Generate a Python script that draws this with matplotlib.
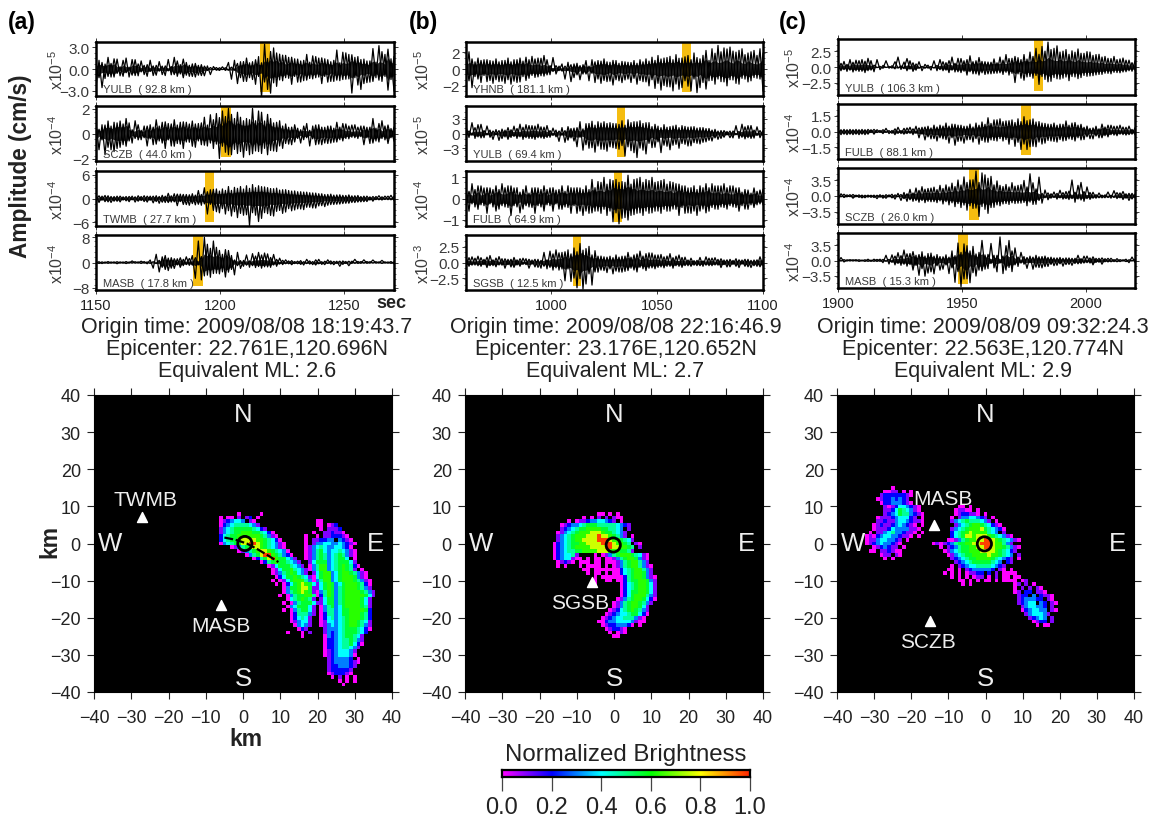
import numpy as np
import matplotlib
matplotlib.use('Agg')
import matplotlib.pyplot as plt
from matplotlib.colors import LinearSegmentedColormap

plt.rcParams['font.family'] = ['Liberation Sans', 'DejaVu Sans']
plt.rcParams['mathtext.default'] = 'regular'

W, H = 1156, 820

# time windows (sec)
windows = [(1150, 1270), (960, 1100), (1900, 2020)]
time_ticks = [[1150, 1200, 1250], [1000, 1050, 1100], [1900, 1950, 2000]]

# peak heights of each seismogram, sign alternates when drawn
a_yulb = [0.8,1.2,0.9,1.3,1.6,1.1,1.4,0.6,0.3,1.0,1.5,1.1,1.3,0.9,0.7,0.4,0.5,1.0,1.2,0.9,0.5,0.3,0.4,0.9,1.3,0.8,1.6,1.0,0.6,1.2,0.9,1.0,0.7,1.1,0.5,0.9,0.4,0.2,0.2,0.1,0.2,0.2,0.3,0.2,0.9,1.4,1.2,2.0,1.0,1.7,1.5,1.2,1.0,2.1,1.7,3.9,3.4,2.8,2.4,1.9,2.2,1.5,1.9,1.2,1.6,2.1,1.4,1.8,1.1,1.6,2.0,1.3,1.8,1.2,1.5,2.0,1.4,1.8,1.0,1.7,2.6,1.6,2.3,1.4,2.0,3.3,1.6,2.2,1.3,2.0,1.1,1.8,2.8,1.2,3.2,1.7,2.0,2.9,1.4,3.0]
a_sczb = [0.8,1.3,0.7,1.7,1.0,1.3,0.9,1.2,1.0,0.9,1.2,0.6,0.3,0.4,0.7,0.5,0.6,1.0,0.7,0.9,1.1,0.6,0.9,1.2,0.8,1.0,1.1,0.8,0.9,1.2,0.9,0.7,1.0,1.1,0.8,0.9,1.3,1.0,1.5,1.2,1.6,2.0,1.8,1.5,2.0,1.7,1.2,1.6,1.3,1.9,1.2,1.7,2.0,1.4,1.8,1.6,1.0,1.7,1.2,1.4,0.9,1.0,0.6,0.8,0.5,0.9,0.7,0.4,0.3,0.5,0.8,1.0,0.6,0.9,0.7,0.9,0.5,0.8,0.6,0.7,0.9,0.5,0.8,0.4,0.6,0.3,0.7,0.4,0.6,0.9,0.5,0.8,1.2,0.6,0.8,0.4,0.6,0.8,0.4,0.6]
a_twmb = [0.9,1.0,0.6,0.8,0.7,1.0,0.5,0.7,0.6,0.4,0.5,0.8,0.6,0.9,0.7,0.5,0.7,0.9,0.6,1.1,0.7,1.2,0.8,1.0,1.3,0.9,1.2,1.8,1.1,1.5,1.0,1.7,1.2,1.6,2.0,1.7,2.7,3.9,2.2,3.0,2.4,3.6,2.4,3.9,3.0,4.4,2.8,4.8,3.0,4.2,3.2,6.8,3.5,4.2,3.2,5.0,2.9,3.8,2.5,4.4,2.6,3.0,2.2,3.4,2.0,3.1,1.9,2.6,1.7,2.8,1.6,2.2,1.4,2.4,1.2,1.8,1.0,1.7,1.1,1.5,0.9,1.4,0.8,1.2,0.9,1.0,0.7,0.9,0.5,0.8,0.6,0.4,0.5,0.3,0.7,0.4,0.6,0.3,0.8,0.5]
a_masb = [0.2,0.3,0.2,0.2,0.3,0.2,0.2,0.4,0.2,0.2,0.3,0.2,0.5,0.2,0.2,0.3,0.3,0.4,0.8,1.8,2.6,3.0,1.8,2.2,1.4,1.8,1.2,0.8,1.5,1.0,1.8,0.9,2.2,5.0,6.8,5.5,8.0,4.0,4.5,3.5,4.8,3.6,2.6,4.6,3.8,2.2,0.8,1.0,0.6,1.2,2.4,1.5,2.8,1.6,3.2,1.8,3.0,1.4,1.6,0.8,1.0,0.5,0.7,0.4,0.5,0.7,0.3,0.4,0.6,0.8,1.0,0.5,0.3,0.8,1.0,0.6,0.4,0.3,0.5,0.7,0.4,1.2,0.5,0.3,0.4,0.3,1.0,0.3,0.3,0.2,0.3,0.2,0.8,0.2,0.2,0.3,0.2,0.2,0.3,0.4]
b_yhnb = [1.0,1.4,1.2,0.9,1.3,1.6,1.1,1.5,1.0,1.7,1.2,1.5,1.0,1.7,1.3,1.8,1.1,1.6,1.3,0.9,1.4,1.1,1.5,1.0,1.3,0.8,1.6,0.7,0.4,0.3,0.4,0.2,0.6,1.2,0.8,1.5,0.6,0.7,0.4,0.6,1.0,1.4,1.1,1.6,1.0,1.7,1.2,1.5,0.8,1.9,1.0,1.4,0.9,1.3,0.8,1.6,1.0,1.8,1.1,1.5,1.2,2.0,1.4,2.3,1.6,2.5,1.3,2.1,1.5,2.6,1.7,2.4,1.3,1.4,1.6,2.6,1.9,2.8,1.2,1.6,2.2,1.4,2.4,1.8,2.8,1.5,2.5,2.0,2.6,1.3,2.0,1.8,2.4,1.2,1.9,1.4,2.2,1.1,2.4,2.6]
b_yulb = [1.4,0.8,2.2,1.0,1.8,0.9,0.6,0.3,0.7,1.2,0.8,1.4,0.9,0.7,1.2,0.8,1.5,1.0,1.9,1.2,1.8,1.0,1.6,1.2,1.9,0.9,1.3,0.8,0.6,0.4,0.7,1.6,1.2,1.8,1.4,0.9,1.1,2.7,2.4,3.4,2.0,3.0,2.5,3.8,2.4,3.2,2.4,3.6,2.2,2.9,2.0,3.2,2.6,4.6,2.8,3.5,2.4,4.9,2.6,3.4,2.2,2.0,1.4,2.8,1.5,3.9,1.8,2.6,1.4,2.4,1.7,3.0,1.6,2.2,1.3,2.5,1.4,2.0,1.2,1.8,1.0,1.4,0.7,0.9,0.5,1.0,0.6,0.3,0.5,0.9,1.6,1.0,1.9,1.1,1.6,1.0,0.7,0.4,0.6,0.4]
b_fulb = [0.5,0.6,0.7,0.4,0.6,0.3,0.5,0.7,0.5,0.4,0.6,0.5,0.7,0.4,0.6,0.8,0.5,0.4,0.3,0.5,0.6,0.4,0.5,0.7,0.5,0.4,0.6,0.3,0.5,0.6,0.4,0.5,0.6,0.4,0.6,0.7,0.5,0.7,0.5,0.8,0.6,0.7,0.9,0.6,0.8,0.7,1.0,0.8,0.9,1.1,0.9,1.2,0.8,0.9,1.1,0.8,0.9,0.7,1.0,0.8,0.9,0.7,1.0,0.6,0.8,0.7,0.9,0.6,0.8,0.5,0.7,0.8,0.6,0.7,0.5,0.7,0.6,0.8,0.6,0.5,0.7,0.6,0.7,0.5,0.6,0.4,0.7,0.5,0.6,0.4,0.5,0.6,0.3,0.5,0.4,0.3,0.5,0.3,0.4,0.3]
b_sgsb = [0.8,0.6,0.9,0.4,1.0,0.6,0.5,0.8,1.1,0.5,0.7,0.4,0.6,0.9,0.5,0.7,0.8,0.4,0.6,0.3,0.6,0.9,0.4,0.7,0.5,0.9,1.6,1.0,1.8,1.2,2.0,1.2,1.6,2.9,2.0,3.0,2.3,4.0,3.0,4.2,2.2,1.8,1.2,1.5,1.0,1.2,0.9,1.6,1.0,1.8,1.2,1.5,1.0,1.4,1.6,0.9,1.2,1.5,1.8,1.0,1.4,0.9,1.5,1.0,1.2,0.7,0.9,0.6,1.4,0.9,1.0,0.6,0.8,0.5,0.4,0.6,0.3,0.5,0.8,0.6,0.9,0.5,0.7,0.4,0.5,0.8,0.4,0.7,0.5,0.3,0.6,0.8,0.4,0.6,0.5,0.8,0.4,0.6,0.9,0.5]
c_yulb = [0.5,0.6,0.9,0.7,1.2,0.8,1.1,0.7,1.2,0.9,1.4,0.5,0.3,0.1,0.1,0.2,1.0,0.2,0.2,0.3,1.6,0.4,0.8,0.6,1.0,0.7,0.5,0.2,0.1,0.2,0.3,0.5,1.0,0.6,1.2,0.6,0.7,0.9,1.6,0.8,1.4,0.9,1.0,1.3,1.8,1.1,1.0,1.3,0.9,1.2,0.8,1.1,1.3,1.0,1.6,1.2,2.0,1.3,1.4,2.5,1.5,1.8,2.0,1.6,2.4,1.8,3.0,2.8,3.3,2.0,4.0,2.3,3.0,1.9,2.4,1.8,2.8,2.2,2.6,1.6,2.9,1.7,2.2,1.5,2.4,1.4,2.0,1.2,1.6,1.0,1.4,1.1,1.7,0.9,1.3,0.8,1.1,0.6,0.7,0.5]
c_fulb = [0.2,0.3,0.2,0.3,0.2,0.3,0.2,0.3,0.2,0.3,0.2,0.1,0.2,0.1,0.1,0.2,0.3,0.2,0.1,0.3,0.4,0.2,0.3,0.2,0.4,0.3,0.5,0.6,0.4,0.8,0.5,0.7,0.6,0.9,0.6,0.7,0.8,1.1,0.7,1.3,0.6,0.9,0.5,0.8,0.7,1.0,0.8,1.2,0.9,1.0,1.3,0.8,1.1,0.9,1.2,0.9,1.0,1.2,1.1,1.4,1.2,1.7,1.4,1.7,1.1,1.4,0.9,1.0,0.8,1.1,0.7,0.9,0.8,1.0,0.7,0.9,1.0,0.7,0.8,0.9,0.6,0.8,0.4,0.5,0.3,0.7,0.5,0.6,0.7,0.4,0.6,0.3,0.5,0.4,0.6,0.3,0.4,0.3,0.2,0.3]
c_sczb = [0.3,0.2,0.4,0.2,0.3,0.5,0.2,0.3,0.2,0.4,0.2,0.3,0.2,0.6,0.3,0.5,0.3,0.2,0.4,0.7,0.6,1.0,0.8,1.2,1.5,1.2,1.8,1.4,2.1,1.5,1.7,1.3,2.0,1.5,2.4,1.8,2.5,2.0,2.9,2.4,3.6,2.6,4.3,3.2,3.6,2.8,5.6,4.6,5.2,3.0,4.0,2.6,2.5,2.0,2.4,1.8,2.6,1.9,3.0,1.7,2.4,1.6,3.5,2.2,5.0,1.9,1.6,1.0,0.6,0.4,0.7,0.5,0.9,0.7,1.3,0.7,1.0,0.8,3.6,1.4,2.4,0.9,1.0,0.6,0.8,0.5,0.3,0.4,0.2,0.4,0.9,0.5,1.2,0.6,0.7,0.8,0.5,1.0,0.6,0.4]
c_masb = [0.2,0.1,0.2,0.1,0.2,0.1,0.2,0.2,0.1,0.2,0.3,0.2,0.3,0.2,0.3,0.5,1.2,0.8,1.3,1.0,1.8,1.1,2.4,1.3,1.6,2.2,1.2,3.4,2.0,3.6,1.6,2.6,1.0,1.2,0.9,2.0,1.3,3.0,2.2,5.0,4.0,6.0,3.8,4.2,2.2,2.8,1.5,2.2,4.6,2.0,1.4,0.7,1.2,2.6,5.4,3.0,3.4,1.6,2.2,1.0,0.8,0.6,0.9,1.8,1.0,2.0,1.2,1.6,0.9,1.4,0.7,0.9,0.6,1.1,0.7,1.3,0.6,0.9,0.5,0.7,1.2,0.7,1.0,0.5,0.6,1.0,0.5,0.4,0.6,0.3,0.5,0.3,0.2,0.3,0.2,0.1,0.3,0.5,0.8,0.4]

traces = [[a_yulb, a_sczb, a_twmb, a_masb],
          [b_yhnb, b_yulb, b_fulb, b_sgsb],
          [c_yulb, c_fulb, c_sczb, c_masb]]
stations = [['YULB  ( 92.8 km )', 'SCZB  ( 44.0 km )', 'TWMB  ( 27.7 km )', 'MASB  ( 17.8 km )'],
            ['YHNB  ( 181.1 km )', 'YULB  ( 69.4 km )', 'FULB  ( 64.9 km )', 'SGSB  ( 12.5 km )'],
            ['YULB  ( 106.3 km )', 'FULB  ( 88.1 km )', 'SCZB  ( 26.0 km )', 'MASB  ( 15.3 km )']]
exponents = [[-5, -4, -4, -4], [-5, -5, -4, -3], [-5, -4, -4, -4]]
amp_lims = [[3.7, 2.2, 6.9, 8.7], [3.2, 5.6, 1.3, 4.35], [4.5, 2.6, 6.3, 6.3]]
amp_ticks = [[[-3.0, 0.0, 3.0], [-2, 0, 2], [-6, 0, 6], [-8, 0, 8]],
             [[-2, 0, 2], [-3, 0, 3], [-1, 0, 1], [-2.5, 0.0, 2.5]],
             [[-2.5, 0.0, 2.5], [-1.5, 0.0, 1.5], [-3.5, 0.0, 3.5], [-3.5, 0.0, 3.5]]]
picks = [[(1216, 1220), (1200.3, 1204.3), (1194, 1197.6), (1189, 1193)],
         [(1062, 1066), (1031, 1035), (1029.8, 1033.7), (1010.3, 1014.2)],
         [(1979.2, 1983), (1974, 1978), (1953, 1957), (1948.6, 1952.7)]]

origin_lines = [['Origin time: 2009/08/08 18:19:43.7', 'Epicenter: 22.761E,120.696N', 'Equivalent ML: 2.6'],
                ['Origin time: 2009/08/08 22:16:46.9', 'Epicenter: 23.176E,120.652N', 'Equivalent ML: 2.7'],
                ['Origin time: 2009/08/09 09:32:24.3', 'Epicenter: 22.563E,120.774N', 'Equivalent ML: 2.9']]

# brightness maps: (x of first column, y of first row, rows); 1 char = 1 km, digit indexes digit_levels
digit_levels = [0.0, 0.1, 0.2, 0.3, 0.4, 0.48, 0.56, 0.63, 0.76, 0.97]
a_arc1 = (-6, 8, [
    "     0     0",
    "0 00 1 12 0",
    "0123443 10",
    "02345555431",
    "1345666665421",
    "134566777665420",
    "2456677777765310",
    "24566788887765420",
    "034567889987654310",
    "   013567887654310",
    "     01356788765430",
    "       0356899765320",
    "         025689766431",
    "           02567665431",
    "             0146665431",
    "              0146675431",
    "              0135676431",
    "               0246676541",
    "              0 0146777531",
    "               0 0246787641",
    "                 036678861",
    "                 035678761",
    "                0 035667751",
    "                  04567651",
    "                 0 03566641",
    "                  03466641",
    "                 0 0356641",
    "                   0255531",
    "                   024541",
    "                   013441",
    "                    03431",
    "                     021",
    "                  0   0 1",
    "                      0",
])
a_arc2 = (17, 6, [
    "   00",
    "   00 012",
    "    0 1112",
    "  0  112110",
    "0  0 1122210",
    "0 112233 3210",
    "0 133443343210",
    "0134543344320",
    "01356434454310",
    "01356534565310",
    "013565345664 0",
    " 1466634566641",
    " 03577345676520",
    " 0357734567651 0",
    "  146773467765310",
    "  046773467776310",
    "  0357734677765310",
    "   146763467776520",
    "   146763567776531",
    "   0357635677776531",
    "   0257635677777641",
    "    14663567777641",
    "    14663567777641",
    "    03563467777651",
    "    03553466777762",
    "    02553466777652",
    "    02453456777652",
    "    01443456776541",
    "    01343456776531",
    "     1333456665420",
    "     132345666542",
    "     03234566541",
    "     02234556531",
    "     02234556420",
    "     0223455431",
    "     012344431",
    "     012344430",
    "      1233332 0",
    "      123333210",
    "      12233321",
    "      1222221",
    "      0122210",
    "       0 1 0 0",
    "         0 0 0",
    "          0",
])
b_top = (-17, 8, [
    "             00 0 0",
    "         0 0 1 1 100",
    "     0 01123344321 0",
    "   0123345666555554321",
    "   12345667777665543 1",
    "  0134567778887665431",
    "  1345677788898876531 0",
    "  134567788889998776541",
    " 023456677888899987765 10",
    " 0234567777888899887765 1",
    " 0234556677778887776651",
    " 0234451",
    " 0234410",
    "  01210",
    "  0 0",
])
b_hollow = (-9, -4, [
    "0 0 00 0 0",
    "000 00 0000",
    "0 0000 0 00",
    " 00 0000000",
    "  0 00 0 000",
    "    0 000000",
    "    0  00 00",
    "    0",
])
b_arc = (-6, -3, [
    " 0 0135677765410",
    "     01356776310",
    "      0135677531",
    "      01356775310",
    "       0245677531",
    "       0245677631",
    "        0256776310",
    "        0256677631",
    "        0245677641",
    "        0245677641",
    "        0246677641",
    "        0246777531",
    "       01356776420",
    "      01356776531",
    "      0135677641",
    "     01245676531",
    "    012344566420",
    "   012344555310",
    "  0023344443100",
    "   012233320 0",
    "    012210",
    "     0 010",
    "      00",
])
c_left = (-32, 15, [
    "       0",
    "     0011 0 0",
    "    122222210",
    "   012232321",
    "    022333210",
    "     1012443210",
    "     1124654310",
    "     12346553210",
    "   01112344421 0",
    "   1121134432110",
    "  012112343210 0",
    "  0111243333110",
    " 0 11345332110 0",
    "0102344332110 0",
    "0113443321 0",
    "0123433210",
    "  0123211 0",
    " 00 112100",
    "    011 10",
    "     0 0",
])
c_mid = (-14, 10, [
    "       00 0",
    "      01100 0",
    "      0122110 0",
    "     0 13344321 0",
    "     13456555431 0",
    "      1345677654210",
    "     134567778654320",
    "     2456787777543 1",
    "     24568878887654310",
    "    00135677889987654310",
    "0101235667788999877531",
    "  0 12356677889987765310",
    "   01345667778888765421",
    "    013456677778776543 1",
    "     12345667777654321 0",
    "      1234566666543 21",
    "     0 1234455554321",
    "    00 0 12333332 10 0",
    "   0 0 0 01122 2 1 0 00",
    "     0 0 0 011 0 1 00 0",
    "       00 0 0 00 0 00",
    "        0 0",
])
c_tail = (5, -7, [
    "0 0",
    "00",
    " 0  0",
    "  00 01",
    "   01 1 0",
    "   0 1 1 10",
    "   01 22 110",
    "    122 3 2110",
    "    1233322 10",
    "    12344 32 10",
    "     1344332 1",
    "     0234433 10",
    "      1344431",
    "       12343 1",
    "        0122 1",
    "         0 00",
])
map_blobs = [[a_arc1, a_arc2], [b_hollow, b_top, b_arc], [c_left, c_mid, c_tail]]

# station triangles and their labels, in km
map_stations = [[('TWMB', -27, 7.2, -26.3, 11.8), ('MASB', -6, -16.5, -6, -22.2)],
                [('SGSB', -6, -10.5, -9, -16)],
                [('MASB', -14, 5, -11.5, 12), ('SCZB', -15, -21, -15.5, -26.5)]]
epicenter_x = [0.5, -0.2, -0.3]
epicenter_y = [0, -0.4, -0.1]
arc_x = [-5, -2, 1, 4, 7, 9.5]
arc_y = [1.6, 1, 0, -1.6, -3.4, -5]

cmap = LinearSegmentedColormap.from_list('bright', [(0.0, '#ff00ff'), (0.1, '#8000ff'), (0.2, '#0000ff'),
                                                    (0.4, '#00ffff'), (0.6, '#00ff00'), (0.8, '#ffff00'),
                                                    (1.0, '#ff2000')])


def add_axes(x0, y0, x1, y1):
    return fig.add_axes([x0 / W, 1 - y1 / H, (x1 - x0) / W, (y1 - y0) / H])


fig = plt.figure(figsize=(W / 100, H / 100), dpi=100)

trace_x = [(96, 394), (466, 763), (838, 1135)]
trace_y = [[(43, 97), (107, 162), (172, 227), (236, 291)],
           [(43, 97), (107, 162), (172, 227), (236, 291)],
           [(40, 96), (105, 160), (169, 225), (234, 289)]]
map_x = [(94, 392), (465, 763), (837, 1134)]
exp_offset = [39, 43, 44]
grey = '#3a3a3a'

for p in range(3):
    t0, t1 = windows[p]
    for r in range(4):
        ax = add_axes(trace_x[p][0], trace_y[p][r][0], trace_x[p][1], trace_y[p][r][1])
        lim = amp_lims[p][r]
        peaks = np.array(traces[p][r])
        signs = np.where(np.arange(len(peaks)) % 2 == 0, 1, -1)
        t = np.linspace(t0, t1, len(peaks))
        # second pass uses the neighbouring peaks so the two zigzags don't mirror each other
        other = -0.85 * np.roll(peaks, 3) * signs
        core = 0.55 * np.minimum(peaks, np.roll(peaks, 3))
        ax.axvspan(picks[p][r][0], picks[p][r][1], ymin=0.07, ymax=1, color='#f5bd10', lw=0, zorder=1)
        ax.plot(t, peaks * signs, color='k', lw=0.9, zorder=3)
        ax.plot(t, other, color='k', lw=0.9, zorder=3)
        ax.fill_between(t, -core, core, color='k', lw=0, alpha=0.85, zorder=3)
        ax.set_xlim(t0, t1)
        ax.set_ylim(-lim, lim)
        ax.set_yticks(amp_ticks[p][r])
        ax.set_yticklabels([('%.1f' % v if isinstance(v, float) else str(v)).replace('-', '\u2212')
                            for v in amp_ticks[p][r]])
        ax.set_xticks(time_ticks[p])
        ax.set_yticks(np.linspace(-lim, lim, 11), minor=True)
        ax.tick_params(axis='both', which='major', direction='out', length=3, width=0.7, top=True, right=True,
                       labelsize=11, colors=grey, pad=1.5)
        ax.tick_params(axis='y', which='minor', direction='out', length=1.5, width=0.5, right=True, colors=grey)
        if r < 3:
            ax.set_xticklabels([])
        else:
            ax.tick_params(axis='x', which='major', labelsize=10.5, pad=3, labelcolor='#222222')
        for s in ax.spines.values():
            s.set_linewidth(1.8)
            s.set_zorder(5)
        ax.text(0.022, 0.13, stations[p][r], transform=ax.transAxes, fontsize=8, color=grey, va='center', zorder=6)
        ylab_x = trace_x[p][0] - exp_offset[p]
        fig.text(ylab_x / W, 1 - (sum(trace_y[p][r]) / 2) / H, 'x10$^{%d}$' % exponents[p][r],
                 rotation=90, fontsize=11.5, color=grey, ha='center', va='center')

    m = add_axes(map_x[p][0], 396, map_x[p][1], 693)
    m.set_facecolor('k')
    grid = np.full((81, 81), np.nan)
    for x_first, y_first, rows in map_blobs[p]:
        for i, row in enumerate(rows):
            for j, ch in enumerate(row):
                if ch != ' ':
                    grid[y_first - i + 40, x_first + j + 40] = digit_levels[int(ch)]
    m.imshow(grid, extent=(-40.5, 40.5, -40.5, 40.5), origin='lower', cmap=cmap, vmin=0, vmax=1,
             interpolation='nearest', aspect='auto')
    if p == 0:
        m.plot(arc_x, arc_y, color='k', lw=1.6, dashes=(4, 1.2))
    m.scatter([epicenter_x[p]], [epicenter_y[p]], s=105, facecolor='none', edgecolor='k', linewidth=2.0, zorder=5)
    for name, sx, sy, lx, ly in map_stations[p]:
        m.scatter([sx], [sy], marker='^', s=52, color='white', zorder=6)
        m.text(lx, ly, name, color='#eeeeee', fontsize=15, ha='center', va='center', zorder=6)
    for lab, lx, ly in [('N', 0, 34.9), ('S', 0, -36.2), ('W', -35.7, 0), ('E', 35.5, 0)]:
        m.text(lx, ly, lab, color='#eeeeee', fontsize=18.5, ha='center', va='center')
    m.set_xlim(-40, 40)
    m.set_ylim(-40, 40)
    ticks = np.arange(-40, 41, 10)
    m.set_xticks(ticks)
    m.set_yticks(ticks)
    m.set_xticklabels([str(v).replace('-', '\u2212') for v in ticks])
    m.set_yticklabels([str(v).replace('-', '\u2212') for v in ticks])
    m.tick_params(direction='out', length=5, width=0.8, labelsize=13, colors='#222222', top=True, right=True)
    m.tick_params(axis='x', pad=7)
    m.tick_params(axis='y', pad=4.5)

    cx = [247, 615.5, 983][p]
    for line, yy in zip(origin_lines[p], [328, 350, 372]):
        fig.text(cx / W, 1 - yy / H, line, fontsize=15.5, color='#222222', ha='center', va='center')

for lab, xx in zip(['(a)', '(b)', '(c)'], [8, 409, 779]):
    fig.text(xx / W, 1 - 23 / H, lab, fontsize=16.5, fontweight='bold', va='center')

fig.text(21 / W, 1 - 166 / H, 'Amplitude (cm/s)', rotation=90, fontsize=16.3, fontweight='bold',
         ha='center', va='center', color='#222222')
fig.text(246 / W, 1 - 740 / H, 'km', fontsize=16.5, fontweight='bold', ha='center', va='center', color='#222222')
fig.text(50 / W, 1 - 542 / H, 'km', rotation=90, fontsize=16.5, fontweight='bold', ha='center', va='center',
         color='#222222')
fig.text(391 / W, 1 - 303 / H, 'sec', fontsize=13, fontweight='bold', ha='center', va='center', color='#222222')

cb = add_axes(502, 771, 750, 778)
cb.imshow(np.linspace(0, 1, 256).reshape(1, -1), extent=(0, 1, 0, 1), cmap=cmap, aspect='auto')
cb.set_yticks([])
cb.set_xticks([0, 0.2, 0.4, 0.6, 0.8, 1.0])
cb.set_xticklabels(['0.0', '0.2', '0.4', '0.6', '0.8', '1.0'])
cb.tick_params(axis='x', direction='out', length=10, width=0.9, labelsize=17, color='#444444',
               labelcolor='#222222', pad=4)
for s in cb.spines.values():
    s.set_linewidth(1.6)
fig.text(626 / W, 1 - 755 / H, 'Normalized Brightness', fontsize=17.3, color='#222222', ha='center', va='center')

fig.savefig('out.png', dpi=100, facecolor='white')
